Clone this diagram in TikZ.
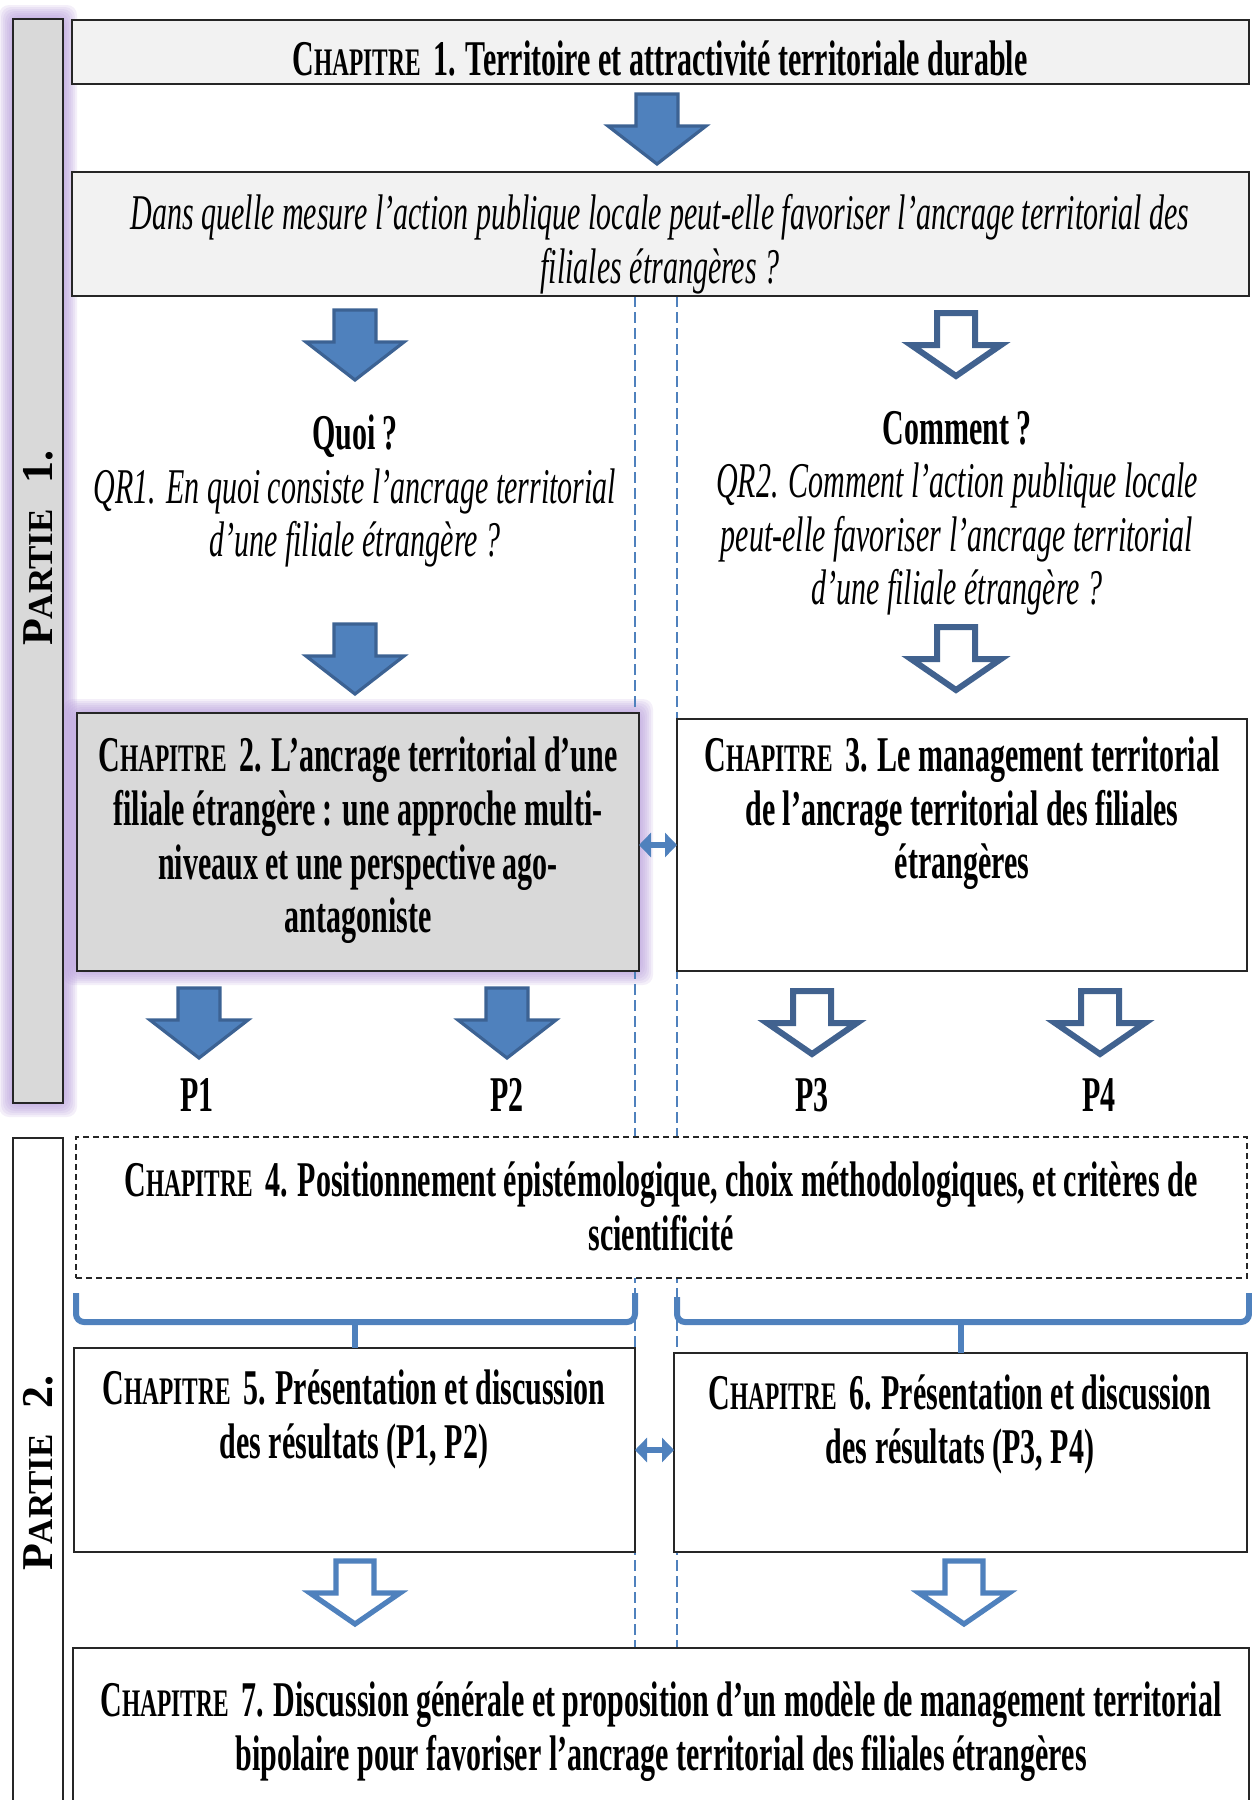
\documentclass[tikz,border=0pt]{standalone}
\usepackage{fontspec}
\setmainfont{Liberation Serif}[FakeStretch=0.6]
\newfontfamily\partfont{Liberation Serif}
\usetikzlibrary{calc,fit,arrows.meta,backgrounds}

\definecolor{arrowblue}{HTML}{4F81BD}
\definecolor{arrowedge}{HTML}{3C6293}
\definecolor{darkoutline}{HTML}{41628F}
\definecolor{boxgray}{HTML}{D9D9D9}
\definecolor{boxlight}{HTML}{F2F2F2}
\definecolor{glowpurple}{HTML}{B296D8}

% small-caps style heading words
\newcommand\chapword{C{\fontsize{19.5}{27}\selectfont HAPITRE}\hspace{0.25em}}
\newcommand\partword{P{\fontsize{17.5}{27}\selectfont ARTIE}\hspace{0.6em}}

\tikzset{
  every node/.style={inner sep=0pt, outer sep=0pt},
  frame/.style={draw=black!85, line width=1.1pt, rectangle},
  dashframe/.style={draw=black!85, line width=0.9pt, dash pattern=on 3pt off 2pt, rectangle},
  txt/.style={align=center, font=\fontsize{25}{26.8}\selectfont\bfseries,
    execute at begin node=\strut, execute at end node=\strut},
  itxt/.style={txt, font=\fontsize{25}{26.8}\selectfont\itshape},
  parttxt/.style={font=\partfont\fontsize{22}{27}\selectfont\bfseries, rotate=90},
  solidarrow/.style={fill=arrowblue, draw=arrowedge, line width=1.6pt, line join=miter},
  hollowarrow/.style={fill=white, draw=darkoutline, line width=3pt, line join=miter},
  lightarrow/.style={fill=white, draw=arrowblue, line width=2.6pt, line join=miter},
  guide/.style={draw=arrowblue, line width=0.8pt, dash pattern=on 5.5pt off 2.5pt},
  bracket/.style={draw=arrowblue, line width=3pt, rounded corners=4pt},
  linkarrow/.style={draw=arrowblue, line width=3pt,
    {Triangle[width=12pt,length=6pt]}-{Triangle[width=12pt,length=6pt]}},
  glow/.style={fill=glowpurple, opacity=0.15},
  pics/downarrow/.style={code={
    \path[pic actions] (-21,0) -- (21,0) -- (21,32) -- (49,32) -- (0,70)
      -- (-49,32) -- (-21,32) -- cycle;}},
  pics/hollowdown/.style={code={
    \path[pic actions] (-19,3) -- (19,3) -- (19,35) -- (45,35) -- (0,66)
      -- (-45,35) -- (-19,35) -- cycle;}},
}

\begin{document}
\begin{tikzpicture}[x=0.5pt,y=-0.5pt]
\useasboundingbox (0,0) rectangle (1252,1800);
\clip (0,0) rectangle (1252,1800);

% ---- frames ----
\node[frame, fill=boxgray,  fit={(13,19) (63,1103)}]    (part1) {};
\node[frame, fill=white,    fit={(13,1138) (63,1840)}]  (part2) {};
\node[frame, fill=boxlight, fit={(72,20) (1249,84)}]    (ch1) {};
\node[frame, fill=boxlight, fit={(72,172) (1249,296)}]  (dans) {};
\node[frame, fill=boxgray,  fit={(77,713) (639,971)}]   (ch2) {};
\node[frame, fill=white,    fit={(677,719) (1247,971)}] (ch3) {};
\node[dashframe, fill=white, fit={(76,1137) (1247,1278)}] (ch4) {};
\node[frame, fill=white,    fit={(74,1348) (635,1552)}]  (ch5) {};
\node[frame, fill=white,    fit={(674,1353) (1247,1552)}] (ch6) {};
\node[frame, fill=white,    fit={(73,1648) (1249,1840)}] (ch7) {};

% ---- halo around the highlighted frames, and the two column guides ----
\begin{scope}[on background layer]
  \foreach \d in {2,4,...,14} {
    \fill[glow, rounded corners=5pt] ($(part1.south west)+(-\d,\d)$) rectangle ($(part1.north east)+(\d,-\d)$);
    \fill[glow, rounded corners=5pt] ($(ch2.south west)+(-\d,\d)$) rectangle ($(ch2.north east)+(\d,-\d)$);
  }
  \draw[guide] (dans.south -| ch5.east) -- (ch7.north -| ch5.east);
  \draw[guide] (dans.south -| ch3.west) -- (ch7.north -| ch3.west);
\end{scope}

% ---- texts ----
\node[parttxt] (part1t) at (38,548) {\partword 1.};
\node[parttxt] (part2t) at (38,1473) {\partword 2.};

\node[txt] (ch1t) at (660,65) {\chapword 1. Territoire et attractivité territoriale durable};
\node[itxt] (danst) at (660,247) {Dans quelle mesure l’action publique locale peut-elle favoriser l’ancrage territorial des\\filiales étrangères ?};

\node[txt] (q1) at (355,494) {Quoi ?\\\textit{\mdseries QR1. En quoi consiste l’ancrage territorial}\\\textit{\mdseries d’une filiale étrangère ?}};
\node[txt] (q2) at (957,516) {Comment ?\\\textit{\mdseries QR2. Comment l’action publique locale}\\\textit{\mdseries peut-elle favoriser l’ancrage territorial}\\\textit{\mdseries d’une filiale étrangère ?}};

\node[txt] (ch2t) at (358,843) {\chapword 2. L’ancrage territorial d’une\\filiale étrangère : une approche multi-\\niveaux et une perspective ago-\\antagoniste};
\node[txt] (ch3t) at (962,816) {\chapword 3. Le management territorial\\de l’ancrage territorial des filiales\\étrangères};

\node[txt] (p1) at (197,1101) {P1};
\node[txt] (p2) at (507,1101) {P2};
\node[txt] (p3) at (812,1101) {P3};
\node[txt] (p4) at (1099,1101) {P4};

\node[txt] (ch4t) at (661,1214) {\chapword 4. Positionnement épistémologique, choix méthodologiques, et critères de\\scientificité};
\node[txt] (ch5t) at (354,1422) {\chapword 5. Présentation et discussion\\des résultats (P1, P2)};
\node[txt] (ch6t) at (960,1427) {\chapword 6. Présentation et discussion\\des résultats (P3, P4)};
\node[txt] (ch7t) at (661,1734) {\chapword 7. Discussion générale et proposition d’un modèle de management territorial\\bipolaire pour favoriser l’ancrage territorial des filiales étrangères};

% ---- block arrows ----
\pic[solidarrow] (a1) at (657,94) {downarrow};
\pic[solidarrow] (a2) at (355,310) {downarrow};
\pic[solidarrow] (a3) at (355,624) {downarrow};
\pic[solidarrow] (a4) at (199,988) {downarrow};
\pic[solidarrow] (a5) at (507,988) {downarrow};
\pic[hollowarrow] (a6) at (956,310) {hollowdown};
\pic[hollowarrow] (a7) at (956,624) {hollowdown};
\pic[hollowarrow] (a8) at (812,988) {hollowdown};
\pic[hollowarrow] (a9) at (1100,988) {hollowdown};
\pic[lightarrow] (a10) at (355,1558) {hollowdown};
\pic[lightarrow] (a11) at (964,1558) {hollowdown};

% ---- links between the two columns ----
\draw[linkarrow] (ch2.east |- ch3.west) -- (ch3.west);
\draw[linkarrow] (ch5.east) -- (ch6.west |- ch5.east);

% ---- braces from chapter 4 to chapters 5 and 6 ----
\draw[bracket] ($(ch4.south west)+(0,15)$) |- ($(ch5.north)+(0,-26)$) -| ($(ch5.north east)+(0,-55)$);
\draw[bracket] ($(ch5.north)+(0,-26)$) -- (ch5.north);
\draw[bracket] ($(ch6.north west)+(3,-56)$) |- ($(ch6.north)+(0,-31)$) -| ($(ch4.south east)+(2,15)$);
\draw[bracket] ($(ch6.north)+(0,-31)$) -- (ch6.north);
\end{tikzpicture}
\end{document}
